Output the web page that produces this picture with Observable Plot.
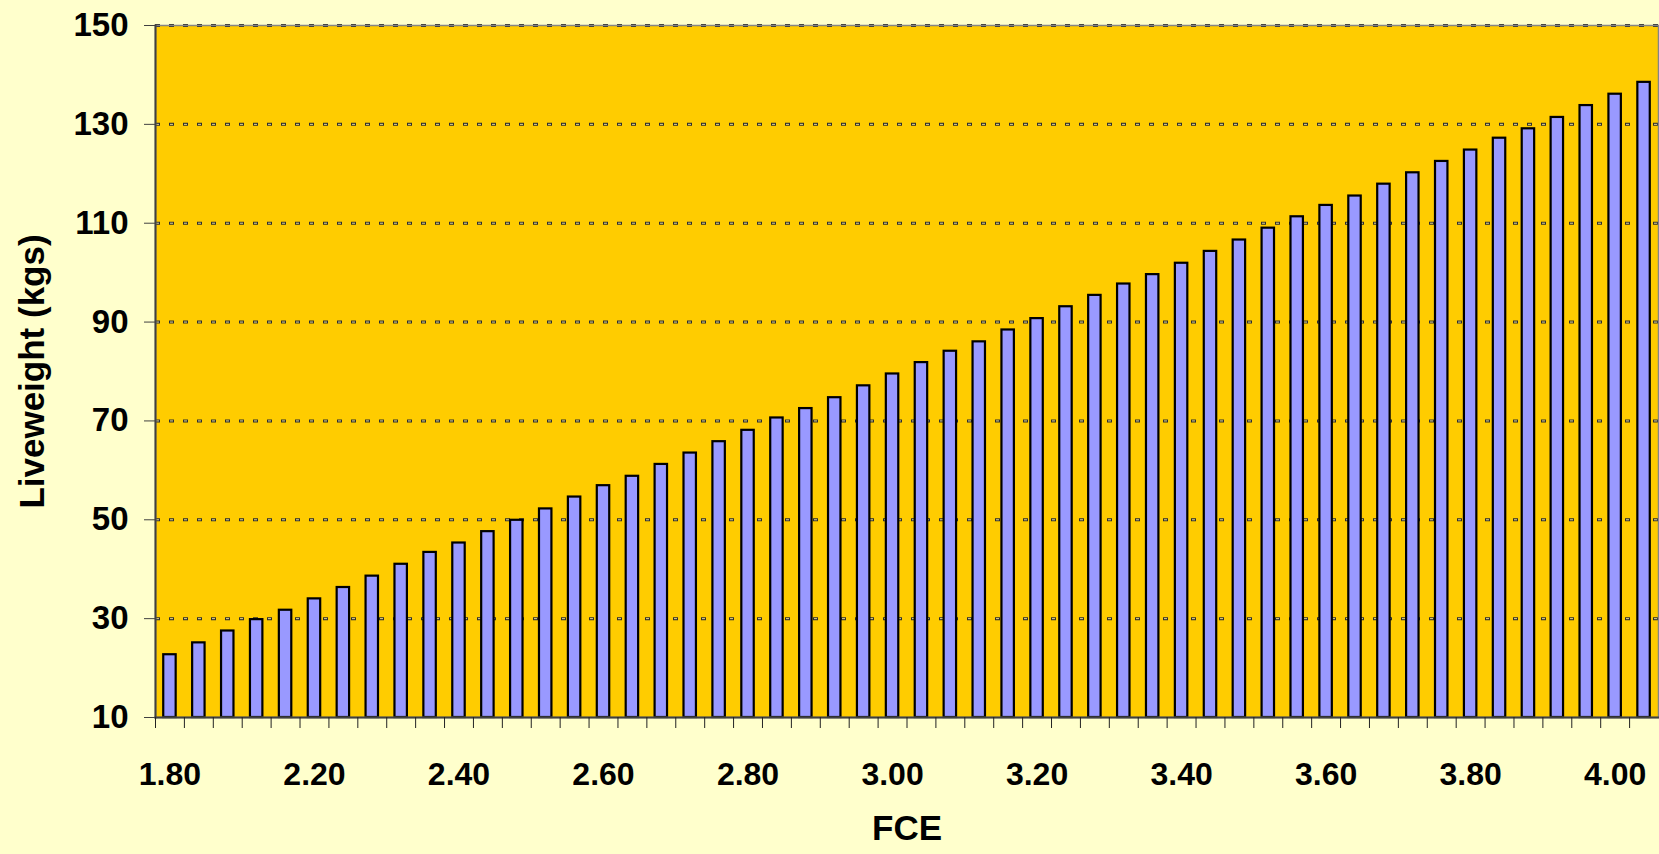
<!DOCTYPE html>
<html>
<head>
<meta charset="utf-8">
<script src="https://cdn.jsdelivr.net/npm/d3@7"></script>
<script src="https://cdn.jsdelivr.net/npm/@observablehq/plot@0.6"></script>
<style>
  html, body { margin: 0; padding: 0; background: #FFFFCC; overflow: hidden; }
  #chart svg { display: block; }
</style>
</head>
<body>
<div id="chart"></div>
<script>
// FCE categories (as labelled in the source chart)
const fce = ["1.80","2.04","2.08","2.12","2.16","2.20","2.24","2.28","2.32","2.36",
             "2.40","2.44","2.48","2.52","2.56","2.60","2.64","2.68","2.72","2.76",
             "2.80","2.84","2.88","2.92","2.96","3.00","3.04","3.08","3.12","3.16",
             "3.20","3.24","3.28","3.32","3.36","3.40","3.44","3.48","3.52","3.56",
             "3.60","3.64","3.68","3.72","3.76","3.80","3.84","3.88","3.92","3.96",
             "4.00","4.04"];
// Liveweight (kgs)
const liveweight = [22.7, 25.1, 27.5, 29.8, 31.7, 34.0, 36.3, 38.6, 41.0, 43.4,
                    45.3, 47.6, 49.9, 52.2, 54.6, 56.9, 58.8, 61.2, 63.5, 65.8,
                    68.1, 70.6, 72.5, 74.7, 77.1, 79.5, 81.8, 84.1, 86.0, 88.4,
                    90.7, 93.1, 95.4, 97.7, 99.6, 101.9, 104.3, 106.6, 109.0, 111.3,
                    113.6, 115.5, 117.9, 120.2, 122.5, 124.8, 127.2, 129.1, 131.4, 133.8,
                    136.1, 138.5];
const xTickLabels = ["1.80","2.20","2.40","2.60","2.80","3.00","3.20","3.40","3.60","3.80","4.00"];
const yTicks = [10, 30, 50, 70, 90, 110, 130, 150];

const data = fce.map((c, i) => ({fce: c, lw: liveweight[i]}));

const W = 1659, H = 854, ml = 155, mr = 1, mt = 25, mb = 137;
const step = (W - ml - mr) / fce.length;
const font = "'Liberation Sans', Arial, Helvetica, sans-serif";

const chart = Plot.plot({
  width: W, height: H,
  marginLeft: ml, marginRight: mr, marginTop: mt, marginBottom: mb,
  style: {background: "#FFFFCC", fontFamily: font, fontWeight: "bold", color: "#000"},
  x: {type: "band", domain: fce, paddingInner: 0.57, paddingOuter: 0.285},
  y: {domain: [yTicks[0], yTicks[yTicks.length - 1]]},
  marks: [
    Plot.frame({fill: "#FFCC00"}),
    Plot.ruleY(yTicks.slice(1), {stroke: "#2e2e2e", strokeWidth: 3, strokeDasharray: "5,9"}),
    Plot.ruleY(yTicks.slice(1), {stroke: "#e6d890", strokeWidth: 1, strokeDasharray: "3,11", strokeDashoffset: -1}),
    Plot.barY(data, {x: "fce", y1: () => yTicks[0], y2: "lw", fill: "#9999FF", stroke: "#000", strokeWidth: 2.2}),
    Plot.frame({stroke: "#858585", strokeWidth: 1.5}),
    Plot.frame({anchor: "left", stroke: "#404040", strokeWidth: 2}),
    Plot.frame({anchor: "bottom", stroke: "#404040", strokeWidth: 2}),
    Plot.axisY({ticks: yTicks, tickSize: 11, tickPadding: 16, fontSize: 33, fontWeight: "bold",
                stroke: "#404040", fill: "#000", label: null}),
    Plot.axisX(fce, {tickSize: 11, tickFormat: () => "", dx: -step / 2, stroke: "#222", label: null}),
    Plot.axisX(xTickLabels, {tickSize: 0, tickPadding: 45, fontSize: 32, fontWeight: "bold",
                fill: "#000", label: null}),
    Plot.text(["FCE"], {text: d => d, frameAnchor: "bottom", dy: 122, fontSize: 35, fontWeight: "bold", fill: "#000"}),
    Plot.text(["Liveweight (kgs)"], {text: d => d, frameAnchor: "left", textAnchor: "middle", dx: -123, rotate: -90,
                fontSize: 35, fontWeight: "bold", fill: "#000"})
  ]
});
document.getElementById("chart").appendChild(chart);
</script>
</body>
</html>
